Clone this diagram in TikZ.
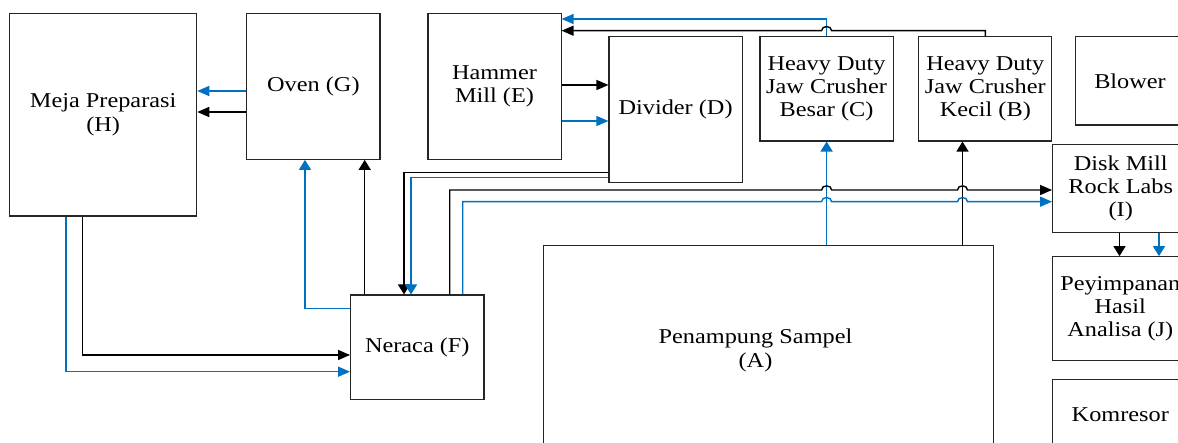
\documentclass[tikz,border=0pt]{standalone}
\usepackage{fontspec}
\setmainfont{Liberation Serif}[FakeStretch=1.15]
\usetikzlibrary{arrows.meta,calc}
\definecolor{lnblue}{HTML}{0070C0}
\definecolor{boxline}{HTML}{262626}
\tikzset{
  box/.style={draw=boxline, line width=1.1bp, rectangle, inner sep=0pt, align=center, fill=white,
    font=\fontsize{21.2}{23.4}\selectfont},
  lbl/.style={inner sep=0pt, align=center, font=\fontsize{21.2}{23.4}\selectfont},
  blk/.style={draw=black, line width=1.4bp},
  blu/.style={draw=lnblue, line width=1.4bp},
  ha/.style={-{Triangle[length=12bp,width=10bp]}},
  va/.style={-{Triangle[length=10bp,width=12bp]}},
}
\begin{document}
\begin{tikzpicture}[x=1bp,y=-1bp]
\useasboundingbox (0,0) rectangle (1178,443);
\clip (0,0) rectangle (1178,443);
% boxes
\node[box, minimum width=187.1bp, minimum height=202.7bp] (H) at (103.15,114.65) {Meja Preparasi\\(H)};
\node[box, minimum width=133.2bp, minimum height=146bp] (G) at (313.4,86.3) {Oven (G)};
\node[box, minimum width=133.1bp, minimum height=146bp] (E) at (494.5,86.3) {Hammer\\Mill (E)};
\node[box, minimum width=133.2bp, minimum height=146bp] (D) at (675.6,109.7) {Divider (D)};
\node[box, minimum width=133.2bp, minimum height=104.3bp] (C) at (826.6,88.85) {Heavy Duty\\Jaw Crusher\\Besar (C)};
\node[box, minimum width=133bp, minimum height=104.3bp] (B) at (985.3,88.85) {Heavy Duty\\Jaw Crusher\\Kecil (B)};
\node[box, minimum width=108.4bp, minimum height=88.3bp] (BL) at (1130,80.85) {Blower};
\node[box, minimum width=136.2bp, minimum height=88bp] (I) at (1120.7,188.3) {Disk Mill\\Rock Labs\\(I)};
\node[box, minimum width=135.4bp, minimum height=104bp] (J) at (1120.3,308.7) {Peyimpanan\\Hasil\\Analisa (J)};
\node[box, minimum width=135.4bp, minimum height=71.7bp] (K) at (1120.3,415.15) {Komresor};
\node[box, minimum width=133.4bp, minimum height=104.3bp] (F) at (417.3,347.15) {Neraca (F)};
\node[box, minimum width=449.9bp, minimum height=208.3bp] (A) at (768.35,349.85) {};
\node[lbl] (At) at (755.5,350.3) {Penampung Sampel\\(A)};
% G -> H
\draw[blu,ha] (G.west |- 0,91) -- (H.east |- 0,91);
\draw[blk,ha] (G.west |- 0,112) -- (H.east |- 0,112);
% E -> D
\draw[blk,ha] (E.east |- 0,85) -- (D.west |- 0,85);
\draw[blu,ha] (E.east |- 0,121) -- (D.west |- 0,121);
% C -> E (top)
\draw[blu,ha] (C.north) -- (C.north |- 0,19) -- (E.east |- 0,19);
% B -> E (top, jumping over blue)
\draw[blk,ha] (B.north) -- (B.north |- 0,30.7) -- (831.6,30.7)
  .. controls (831.6,25.2) and (821.6,25.2) .. (821.6,30.7) -- (E.east |- 0,30.7);
% A -> C, A -> B
\draw[blu,va] (A.north -| C.south) -- (C.south);
\draw[blk,va] (A.north -| 962.5,0) -- (B.south -| 962.5,0);
% D -> F
\draw[blk,va] (D.west |- 0,172.3) -- (404,172.3) -- (F.north -| 404,0);
\draw[blu,va] (D.west |- 0,177.7) -- (411,177.7) -- (F.north -| 411,0);
% F -> I
\draw[blk,ha] (F.north -| 449.7,0) -- (449.7,190) -- (821.6,190)
  .. controls (821.6,184.5) and (831.6,184.5) .. (831.6,190) -- (957.5,190)
  .. controls (957.5,184.5) and (967.5,184.5) .. (967.5,190) -- (I.west |- 0,190);
\draw[blu,ha] (F.north -| 462.7,0) -- (462.7,201.7) -- (821.6,201.7)
  .. controls (821.6,196.2) and (831.6,196.2) .. (831.6,201.7) -- (957.5,201.7)
  .. controls (957.5,196.2) and (967.5,196.2) .. (967.5,201.7) -- (I.west |- 0,201.7);
% F -> G
\draw[blk,va] (F.north -| 364.7,0) -- (G.south -| 364.7,0);
\draw[blu,va] (F.west |- 0,308.3) -- (305,308.3) -- (G.south -| 305,0);
% H -> F
\draw[blk,ha] (H.south -| 82.7,0) -- (82.7,355) -- (F.west |- 0,355);
\draw[blu,ha] (H.south -| 65.8,0) -- (65.8,371.7) -- (F.west |- 0,371.7);
% I -> J
\draw[blk,va] (I.south -| 1119.5,0) -- (J.north -| 1119.5,0);
\draw[blu,va] (I.south -| 1159,0) -- (J.north -| 1159,0);
\end{tikzpicture}
\end{document}
